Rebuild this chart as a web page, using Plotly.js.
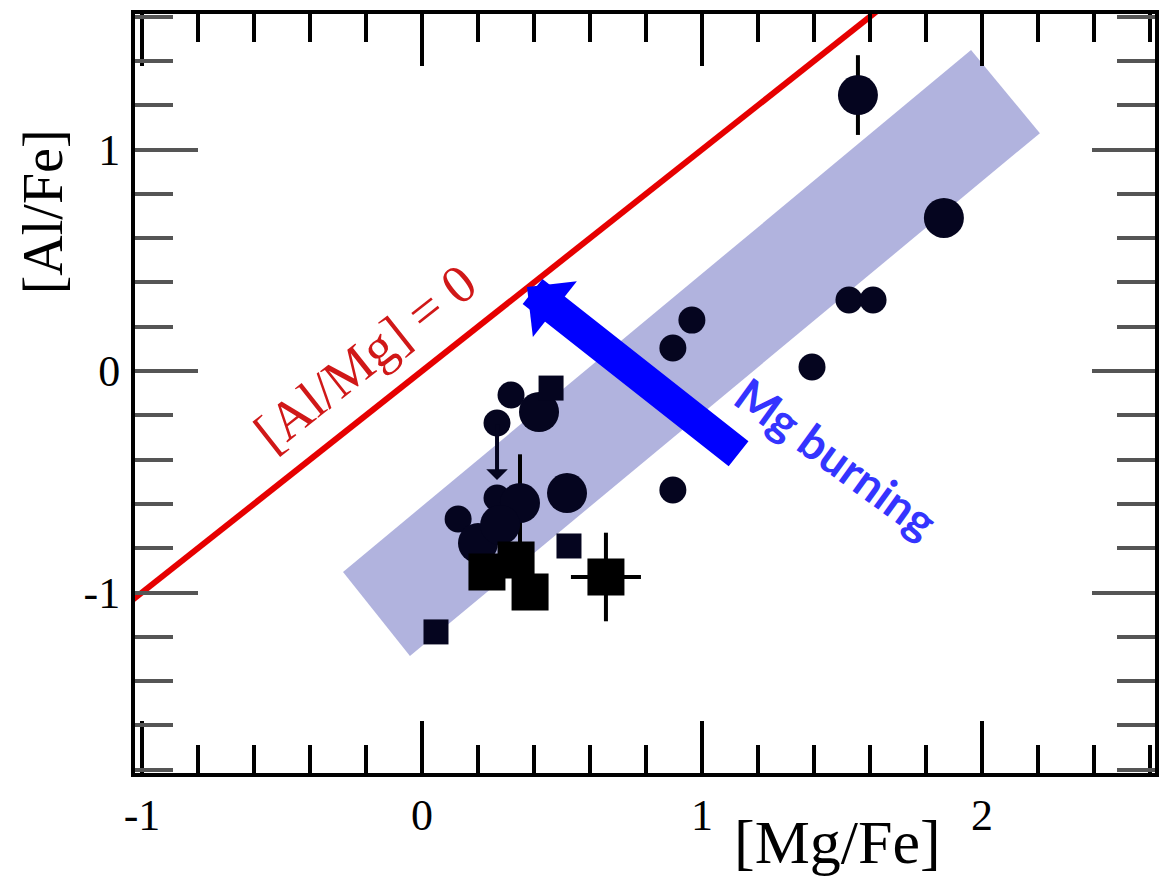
<!DOCTYPE html>
<html>
<head>
<meta charset="utf-8">
<script src="https://cdn.plot.ly/plotly-3.0.1.min.js"></script>
<style>html,body{margin:0;padding:0;background:#fff;}#chart{width:1167px;height:877px;}</style>
</head>
<body>
<div id="chart"></div>
<script>
// ---- data ----
const xTickVals = [-1, 0, 1, 2];
const xTickText = ['-1', '0', '1', '2'];
const yTickVals = [-1, 0, 1];
const yTickText = ['-1', '0', '1'];

// [Al/Mg] = 0 reference line (y = x)
const refLineX = [-1.2, 1.8];
const refLineY = [-1.2, 1.8];

// shaded band corners
const bandX = [-0.282, -0.043, 2.207, 1.961];
const bandY = [-0.907, -1.287, 1.074, 1.449];

// small circles
const circSmallX = [0.129, 0.268, 0.318, 0.268, 0.896, 0.964, 1.393, 1.525, 1.611, 0.896];
const circSmallY = [-0.668, -0.573, -0.108, -0.235, 0.104, 0.230, 0.018, 0.321, 0.321, -0.537];

// large circles
const circBigX = [0.418, 0.518, 0.350, 0.200, 0.279, 1.557, 1.864];
const circBigY = [-0.185, -0.551, -0.596, -0.777, -0.695, 1.246, 0.691];
const circBigErrY = [null, null, 0.22, null, null, 0.18, null];

// small squares
const sqSmallX = [0.461, 0.525, 0.050];
const sqSmallY = [-0.077, -0.790, -1.178];

// large squares
const sqBigX = [0.232, 0.336, 0.386, 0.657];
const sqBigY = [-0.907, -0.853, -0.998, -0.930];
const sqBigErrX = [null, null, null, 0.125];
const sqBigErrY = [null, null, null, 0.20];

// upper limit (downward arrow)
const ulX = [0.268];
const ulY = [-0.235];
const ulTipY = [-0.492];

// Mg burning arrow (tail -> head)
const mgArrowTail = [1.136, -0.379];
const mgArrowHead = [0.375, 0.379];

// ---- styles ----
const navy = '#05051f';
const serif = 'Liberation Serif, Times New Roman, serif';

const traces = [
  {x: bandX, y: bandY, type: 'scatter', mode: 'lines', fill: 'toself',
   fillcolor: '#b1b3de', line: {width: 0, color: '#b1b3de'}, hoverinfo: 'skip'},
  {x: refLineX, y: refLineY, type: 'scatter', mode: 'lines',
   line: {color: '#e60000', width: 6}},
  {x: circSmallX, y: circSmallY, type: 'scatter', mode: 'markers',
   marker: {symbol: 'circle', size: 27, color: navy}},
  {x: circBigX, y: circBigY, type: 'scatter', mode: 'markers',
   marker: {symbol: 'circle', size: 40, color: navy},
   error_y: {type: 'data', array: circBigErrY, symmetric: true, color: '#000', thickness: 4, width: 0}},
  {x: sqSmallX, y: sqSmallY, type: 'scatter', mode: 'markers',
   marker: {symbol: 'square', size: 25, color: navy}},
  {x: sqBigX, y: sqBigY, type: 'scatter', mode: 'markers',
   marker: {symbol: 'square', size: 37, color: '#000'},
   error_x: {type: 'data', array: sqBigErrX, symmetric: true, color: '#000', thickness: 4, width: 0},
   error_y: {type: 'data', array: sqBigErrY, symmetric: true, color: '#000', thickness: 4, width: 0}}
];

const layout = {
  width: 1167, height: 877,
  margin: {l: 135, r: 12, t: 14, b: 104, pad: 0},
  paper_bgcolor: '#fff', plot_bgcolor: '#fff',
  showlegend: false,
  xaxis: {
    range: [-1.025, 2.618], tickmode: 'array', tickvals: xTickVals, ticktext: xTickText,
    ticks: 'inside', ticklen: 52, tickwidth: 4, tickcolor: '#000',
    showline: true, linewidth: 4, linecolor: '#000', mirror: 'ticks',
    showgrid: false, zeroline: false, ticklabelstandoff: 0,
    tickfont: {family: serif, size: 44, color: '#000'},
    minor: {ticks: 'inside', tick0: 0, dtick: 0.2, ticklen: 28, tickwidth: 4, tickcolor: '#000', showgrid: false}
  },
  yaxis: {
    range: [-1.815, 1.612], tickmode: 'array', tickvals: yTickVals, ticktext: yTickText,
    ticks: 'inside', ticklen: 63, tickwidth: 4, tickcolor: '#555',
    showline: true, linewidth: 4, linecolor: '#000', mirror: 'ticks',
    showgrid: false, zeroline: false, ticklabelstandoff: 2,
    tickfont: {family: serif, size: 44, color: '#000'},
    minor: {ticks: 'inside', tick0: 0, dtick: 0.2, ticklen: 38, tickwidth: 4, tickcolor: '#555', showgrid: false}
  },
  annotations: [
    {xref: 'paper', yref: 'paper', x: 0.689, y: -0.091, text: '[Mg/Fe]', showarrow: false,
     xanchor: 'center', yanchor: 'middle', font: {family: serif, size: 62, color: '#000'}},
    {xref: 'paper', yref: 'paper', x: -0.090, y: 0.739, text: '[Al/Fe]', showarrow: false,
     textangle: -90, xanchor: 'center', yanchor: 'middle', font: {family: serif, size: 56, color: '#000'}},
    {xref: 'x', yref: 'y', x: -0.204, y: 0.059, text: '[Al/Mg] = 0', showarrow: false,
     textangle: -38.3, font: {family: serif, size: 54, color: '#d01818'}},
    {xref: 'x', yref: 'y', x: 1.48, y: -0.39, text: '<b>Mg burning</b>', showarrow: false,
     textangle: 36, font: {family: 'Lato, Open Sans, sans-serif', size: 46, color: '#3434ff'}},
    {xref: 'x', yref: 'y', axref: 'x', ayref: 'y',
     x: mgArrowHead[0], y: mgArrowHead[1], ax: mgArrowTail[0], ay: mgArrowTail[1],
     text: '', showarrow: true, arrowhead: 1, arrowsize: 0.37, arrowwidth: 32, arrowcolor: '#0000ff', standoff: 0},
    {xref: 'x', yref: 'y', axref: 'x', ayref: 'y',
     x: ulX[0], y: ulTipY[0], ax: ulX[0], ay: ulY[0],
     text: '', showarrow: true, arrowhead: 1, arrowsize: 0.9, arrowwidth: 4, arrowcolor: navy, standoff: 0}
  ]
};

Plotly.newPlot('chart', traces, layout, {displayModeBar: false, staticPlot: true});
</script>
</body>
</html>
